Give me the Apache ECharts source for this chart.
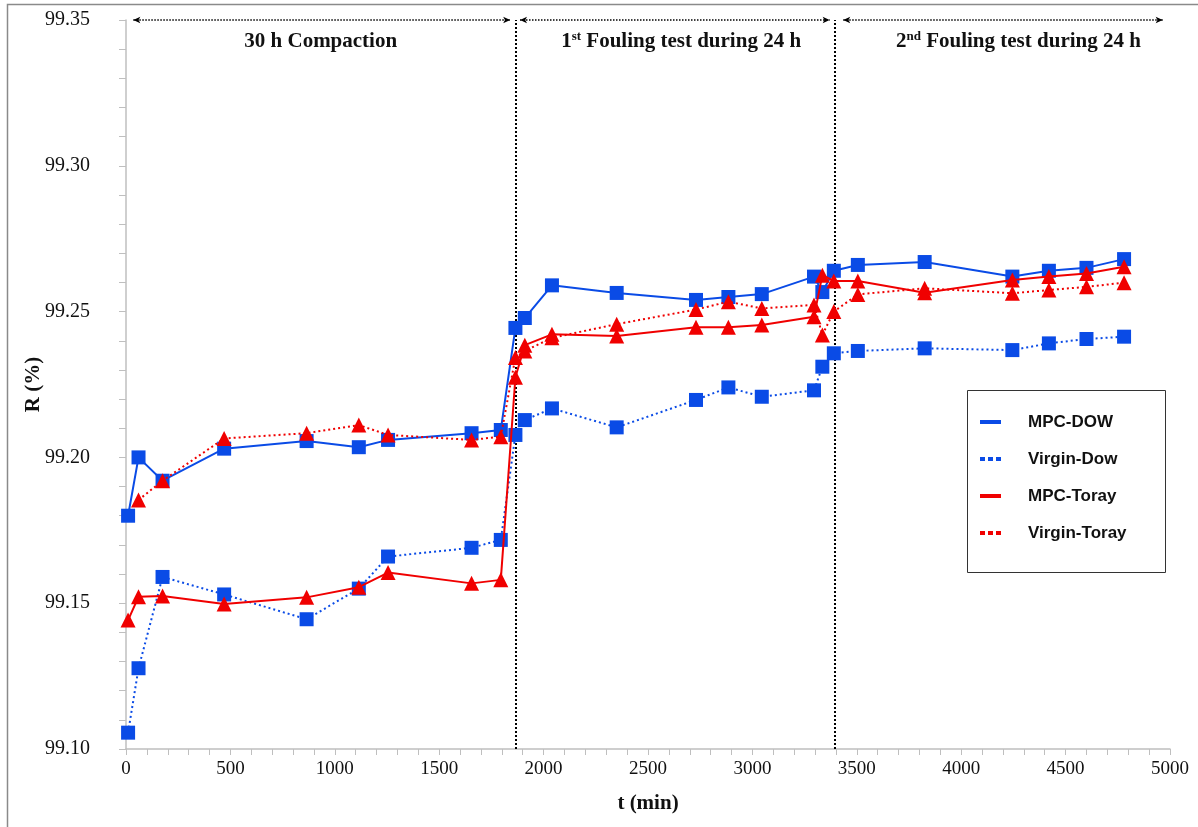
<!DOCTYPE html>
<html>
<head>
<meta charset="utf-8">
<script src="https://cdn.jsdelivr.net/npm/echarts@6/dist/echarts.min.js"></script>
<style>
html,body{margin:0;padding:0;background:#fff;}
#chart{width:1198px;height:827px;}
</style>
</head>
<body>
<div id="chart"></div>
<script>
// ---- data ----
const seriesNames = ['MPC-DOW', 'Virgin-Dow', 'MPC-Toray', 'Virgin-Toray'];

const mpcDowT = [10, 60, 175, 470, 865, 1115, 1255, 1655, 1795, 1865, 1910, 2040, 2350, 2730, 2885, 3045, 3295, 3335, 3390, 3505, 3825, 4245, 4420, 4600, 4780];
const mpcDowR = [99.180, 99.200, 99.192, 99.203, 99.2056, 99.2035, 99.206, 99.2083, 99.2094, 99.2444, 99.2478, 99.259, 99.2564, 99.254, 99.255, 99.256, 99.262, 99.2567, 99.264, 99.266, 99.267, 99.262, 99.264, 99.265, 99.268];

const virginDowT = [10, 60, 175, 470, 865, 1115, 1255, 1655, 1795, 1865, 1910, 2040, 2350, 2730, 2885, 3045, 3295, 3335, 3390, 3505, 3825, 4245, 4420, 4600, 4780];
const virginDowR = [99.1056, 99.1277, 99.159, 99.153, 99.1445, 99.155, 99.166, 99.169, 99.1717, 99.2077, 99.2128, 99.2168, 99.2103, 99.2197, 99.224, 99.2208, 99.223, 99.2311, 99.2357, 99.2365, 99.2374, 99.2368, 99.2391, 99.2406, 99.2414];

const mpcTorayT = [10, 60, 175, 470, 865, 1115, 1255, 1655, 1795, 1865, 1910, 2040, 2350, 2730, 2885, 3045, 3295, 3335, 3390, 3505, 3825, 4245, 4420, 4600, 4780];
const mpcTorayR = [99.1442, 99.1522, 99.1525, 99.1497, 99.152, 99.1555, 99.1605, 99.1568, 99.158, 99.2275, 99.2385, 99.2422, 99.2416, 99.2446, 99.2446, 99.2454, 99.2482, 99.2625, 99.2605, 99.2605, 99.2565, 99.2608, 99.262, 99.2631, 99.2654];

const virginTorayT = [60, 175, 470, 865, 1115, 1255, 1655, 1795, 1865, 1910, 2040, 2350, 2730, 2885, 3045, 3295, 3335, 3390, 3505, 3825, 4245, 4420, 4600, 4780];
const virginTorayR = [99.1854, 99.192, 99.2065, 99.2083, 99.2111, 99.2077, 99.206, 99.2071, 99.2343, 99.2365, 99.241, 99.2457, 99.2507, 99.2534, 99.2511, 99.2523, 99.242, 99.25, 99.2559, 99.258, 99.2563, 99.2574, 99.2585, 99.2599];

// phase boundaries (min) and their titles
const phaseBounds = [0, 1865, 3395, 5000];
const phaseTitles = [
  '{b|30 h Compaction}',
  '{b|1}{sup|st}{b| Fouling test during 24 h}',
  '{b|2}{sup|nd}{b| Fouling test during 24 h}'
];

// axis ticks
const xMin = 0, xMax = 5000, xStep = 500;
const yMin = 99.10, yMax = 99.35, yStep = 0.05;

// ---- styling ----
const BLUE = '#0a4be6';
const RED = '#f00000';
const SERIF = 'Liberation Serif';

function pairs(t, r) { return t.map((v, i) => [v, r[i]]); }

const vLines = phaseBounds.slice(1, 3).map(b => ({
  xAxis: b,
  lineStyle: { color: '#000', type: [2, 2], width: 2 }
}));
const arrowInsetL = [35, 22, 40];
const arrowInsetR = [25, 25, 35];
const arrows = [];
for (let i = 0; i < 3; i++) {
  arrows.push([
    { coord: [phaseBounds[i] + arrowInsetL[i], yMax], symbol: 'arrow', symbolSize: [5, 7] },
    { coord: [phaseBounds[i + 1] - arrowInsetR[i], yMax], symbol: 'arrow', symbolSize: [5, 7],
      lineStyle: { color: '#000', type: [1.5, 1.5], width: 1.5 } }
  ]);
}
const labelOffsets = [[0, 0], [6, 0], [16, 0]];
const areas = phaseTitles.map((title, i) => ([
  { xAxis: phaseBounds[i], name: title,
    label: { offset: labelOffsets[i] } },
  { xAxis: phaseBounds[i + 1] }
]));

const solidIcon = 'path://M0,0H21V4H0Z';
const dotIcon = 'path://M0,0H5V4H0Z M8,0H13V4H8Z M16,0H21V4H16Z';

const chart = echarts.init(document.getElementById('chart'), null, { renderer: 'canvas' });

const option = {
  backgroundColor: '#fff',
  animation: false,
  grid: { left: 126, right: 28, top: 20, bottom: 78, containLabel: false },
  legend: {
    orient: 'vertical',
    left: 980,
    top: 412,
    itemWidth: 21,
    itemHeight: 4,
    itemGap: 17,
    padding: 0,
    textStyle: { fontFamily: 'Liberation Sans', fontWeight: 'bold', fontSize: 17, color: '#111', lineHeight: 20, padding: [0, 0, 0, 22] },
    data: [
      { name: seriesNames[0], icon: solidIcon },
      { name: seriesNames[1], icon: dotIcon },
      { name: seriesNames[2], icon: solidIcon },
      { name: seriesNames[3], icon: dotIcon }
    ]
  },
  graphic: [
    { type: 'rect', left: 965, top: 388, shape: { width: 198, height: 182 }, style: { fill: 'none', stroke: '#333', lineWidth: 1 }, z: 10 },
    { type: 'rect', left: 5, top: 2, shape: { width: 1200, height: 830 }, style: { fill: 'none', stroke: '#8a8a8a', lineWidth: 1.5 }, z: 10, silent: true }
  ],
  xAxis: {
    type: 'value', min: xMin, max: xMax, interval: xStep,
    name: 't (min)', nameLocation: 'middle', nameGap: 44, nameMoveOverlap: false,
    nameTextStyle: { fontFamily: SERIF, fontWeight: 'bold', fontSize: 21, color: '#111' },
    axisLine: { show: true, lineStyle: { color: '#bfbfbf', width: 1.5 } },
    axisTick: { show: true, length: 6, lineStyle: { color: '#bfbfbf' } },
    minorTick: { show: true, splitNumber: 5, length: 6, lineStyle: { color: '#bfbfbf' } },
    splitLine: { show: false },
    axisLabel: { fontFamily: SERIF, fontSize: 19, color: '#111', margin: 11, formatter: v => String(v) }
  },
  yAxis: {
    type: 'value', min: yMin, max: yMax, interval: yStep,
    name: 'R (%)', nameLocation: 'middle', nameGap: 82, nameRotate: 90, nameMoveOverlap: false,
    nameTextStyle: { fontFamily: SERIF, fontWeight: 'bold', fontSize: 21, color: '#111' },
    axisLine: { show: true, lineStyle: { color: '#bfbfbf', width: 1.5 } },
    axisTick: { show: true, length: 7, lineStyle: { color: '#bfbfbf' } },
    minorTick: { show: true, splitNumber: 5, length: 7, lineStyle: { color: '#bfbfbf' } },
    splitLine: { show: false },
    axisLabel: { fontFamily: SERIF, fontSize: 20, color: '#111', margin: 36, formatter: v => v.toFixed(2) }
  },
  series: [
    {
      name: seriesNames[0], type: 'line', data: pairs(mpcDowT, mpcDowR),
      symbol: 'rect', symbolSize: 14,
      itemStyle: { color: BLUE }, lineStyle: { color: BLUE, width: 2 },
      z: 3,
      markLine: {
        silent: true, symbol: 'none', label: { show: false },
        data: vLines.concat(arrows),
        z: 1
      },
      markArea: {
        silent: true,
        itemStyle: { color: 'rgba(0,0,0,0)' },
        label: {
          show: true, position: 'insideTop', distance: 10,
          formatter: p => p.name,
          rich: {
            b: { fontFamily: SERIF, fontWeight: 'bold', fontSize: 21, color: '#111', lineHeight: 24 },
            sup: { fontFamily: SERIF, fontWeight: 'bold', fontSize: 13, color: '#111', lineHeight: 13, verticalAlign: 'top' }
          }
        },
        data: areas
      }
    },
    {
      name: seriesNames[1], type: 'line', data: pairs(virginDowT, virginDowR),
      symbol: 'rect', symbolSize: 14,
      itemStyle: { color: BLUE }, lineStyle: { color: BLUE, width: 2, type: [2, 3] },
      z: 3
    },
    {
      name: seriesNames[2], type: 'line', data: pairs(mpcTorayT, mpcTorayR),
      symbol: 'triangle', symbolSize: 15,
      itemStyle: { color: RED }, lineStyle: { color: RED, width: 2 },
      z: 4
    },
    {
      name: seriesNames[3], type: 'line', data: pairs(virginTorayT, virginTorayR),
      symbol: 'triangle', symbolSize: 15,
      itemStyle: { color: RED }, lineStyle: { color: RED, width: 2, type: [2, 3] },
      z: 4
    }
  ]
};
chart.setOption(option);
</script>
</body>
</html>
